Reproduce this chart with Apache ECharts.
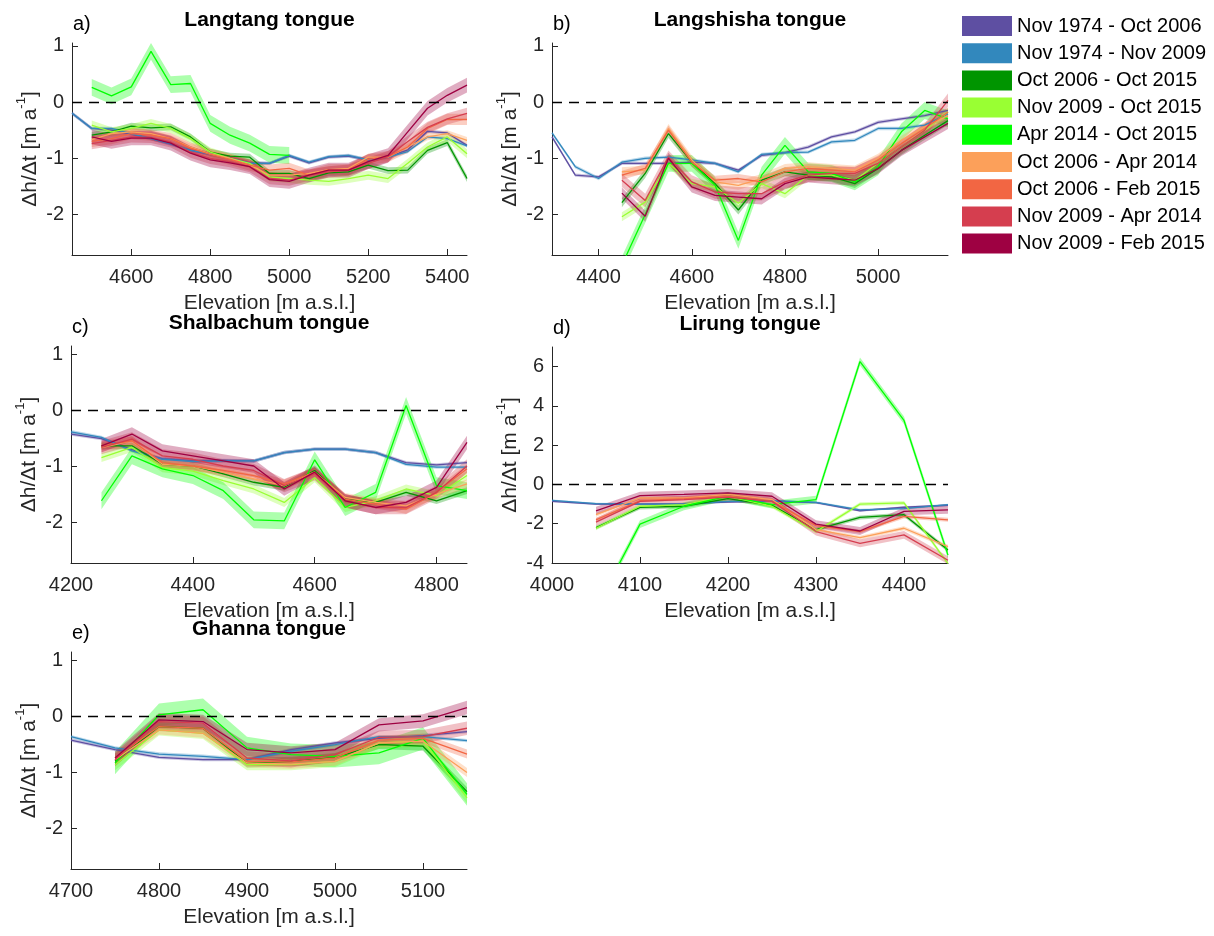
<!DOCTYPE html>
<html>
<head>
<meta charset="utf-8">
<script src="https://cdn.jsdelivr.net/npm/echarts@6/dist/echarts.min.js"></script>
<style>
  html, body { margin: 0; padding: 0; background: #fff; }
  #main { width: 1214px; height: 936px; }
</style>
</head>
<body>
<div id="main"></div>
<script>
// periods, same order in every panel
var periods = [
  "Nov 1974 - Oct 2006", "Nov 1974 - Nov 2009", "Oct 2006 - Oct 2015",
  "Nov 2009 - Oct 2015", "Apr 2014 - Oct 2015", "Oct 2006 - Apr 2014",
  "Oct 2006 - Feb 2015", "Nov 2009 - Apr 2014", "Nov 2009 - Feb 2015"
];
var colors = ["#5e4fa2", "#3288bd", "#009500", "#99ff33", "#00ff00",
              "#fca05a", "#f26643", "#d53e4f", "#9e0142"];

// a) Langtang
var elevA = [4450, 4500, 4550, 4600, 4650, 4700, 4750, 4800, 4850, 4900, 4950,
             5000, 5050, 5100, 5150, 5200, 5250, 5300, 5350, 5400, 5450];
var langtang = [
  [-0.2, -0.47, -0.5, -0.57, -0.65, -0.75, -0.86, -0.93, -1.0, -1.08, -1.09, -0.96, -1.08, -0.98, -0.96, -1.03, -0.98, -0.85, -0.52, -0.55, -0.77],
  [-0.2, -0.47, -0.47, -0.56, -0.65, -0.74, -0.86, -0.92, -1.0, -1.09, -1.09, -0.95, -1.07, -0.97, -0.95, -1.03, -0.98, -0.88, -0.62, -0.65, -0.78],
  [null, -0.59, -0.53, -0.43, -0.46, -0.44, -0.62, -0.89, -0.96, -0.98, -1.27, -1.27, -1.36, -1.26, -1.24, -1.12, -1.22, -1.21, -0.86, -0.72, -1.36],
  [null, -0.41, -0.53, -0.47, -0.38, -0.47, -0.65, -0.89, -1.0, -1.09, -1.33, -1.36, -1.39, -1.41, -1.36, -1.3, -1.36, -1.09, -0.8, -0.62, -0.92],
  [null, 0.26, 0.11, 0.27, 0.9, 0.31, 0.33, -0.38, -0.59, -0.73, -0.93, -0.95, null, null, null, null, null, null, null, null, null],
  [null, -0.67, -0.56, -0.53, -0.56, -0.65, -0.8, -0.92, -1.0, -1.12, -1.3, -1.3, -1.27, -1.2, -1.18, -0.98, -0.98, -0.8, -0.62, -0.56, -0.68],
  [null, -0.7, -0.65, -0.56, -0.59, -0.65, -0.82, -0.93, -1.02, -1.12, -1.21, -1.18, -1.3, -1.2, -1.2, -1.02, -0.97, -0.8, -0.47, -0.31, -0.31],
  [null, -0.74, -0.68, -0.62, -0.63, -0.71, -0.89, -1.0, -1.06, -1.15, -1.36, -1.39, -1.3, -1.24, -1.21, -1.09, -0.97, -0.7, -0.45, -0.3, -0.2],
  [null, -0.62, -0.7, -0.64, -0.64, -0.73, -0.91, -1.03, -1.08, -1.15, -1.38, -1.41, -1.3, -1.21, -1.21, -1.06, -0.95, -0.53, -0.11, 0.12, 0.3]
];
var errA = [0.03, 0.03, 0.06, 0.08, 0.15, 0.06, 0.1, 0.1, 0.13];

// b) Langshisha
var elevB = [4300, 4350, 4400, 4450, 4500, 4550, 4600, 4650, 4700, 4750, 4800,
             4850, 4900, 4950, 5000, 5050, 5100, 5150];
var langshisha = [
  [-0.62, -1.3, -1.33, -1.09, -1.09, -1.09, -1.07, -1.09, -1.21, -0.95, -0.9, -0.8, -0.62, -0.53, -0.36, -0.3, -0.24, -0.15],
  [-0.55, -1.15, -1.36, -1.07, -1.0, -0.98, -1.03, -1.09, -1.24, -0.93, -0.9, -0.89, -0.71, -0.68, -0.47, -0.47, -0.41, -0.21],
  [null, null, null, -1.79, -1.27, -0.56, -1.07, -1.45, -1.92, -1.39, -1.24, -1.3, -1.33, -1.45, -1.18, -0.86, -0.59, -0.33],
  [null, null, null, -2.04, -1.78, -1.09, -1.45, -1.51, -1.8, -1.45, -1.63, -1.3, -1.3, -1.39, -1.09, -0.8, -0.5, -0.18],
  [null, null, null, -2.9, -2.0, -1.09, -1.09, -1.48, -2.46, -1.3, -0.77, -1.24, -1.27, -1.42, -1.15, -0.53, -0.15, -0.3],
  [null, null, null, -1.24, -1.21, -0.47, -1.03, -1.42, -1.48, -1.36, -1.18, -1.15, -1.18, -1.21, -1.0, -0.68, -0.44, -0.24],
  [null, null, null, -1.3, -1.18, -0.5, -1.07, -1.39, -1.36, -1.42, -1.24, -1.18, -1.21, -1.24, -1.03, -0.74, -0.47, -0.18],
  [null, null, null, -1.39, -1.75, -0.98, -1.42, -1.6, -1.63, -1.63, -1.42, -1.3, -1.27, -1.27, -1.09, -0.8, -0.5, 0.03],
  [null, null, null, -1.62, -2.03, -1.0, -1.51, -1.66, -1.69, -1.72, -1.45, -1.33, -1.36, -1.39, -1.18, -0.86, -0.62, -0.38]
];
var errB = [0.03, 0.03, 0.08, 0.08, 0.15, 0.08, 0.08, 0.12, 0.1];

// c) Shalbachum
var elevC = [4200, 4250, 4300, 4350, 4400, 4450, 4500, 4550, 4600, 4650, 4700, 4750, 4800, 4850];
var shalbachum = [
  [-0.42, -0.5, -0.7, -0.86, -0.9, -0.89, -0.9, -0.75, -0.69, -0.69, -0.75, -0.93, -0.97, -0.93],
  [-0.38, -0.48, -0.72, -0.87, -0.91, -0.9, -0.9, -0.75, -0.69, -0.69, -0.75, -0.96, -1.01, -1.01],
  [null, -0.63, -0.63, -0.96, -0.99, -1.13, -1.28, -1.37, -1.07, -1.58, -1.64, -1.46, -1.61, -1.43],
  [null, -0.84, -0.66, -1.02, -1.08, -1.25, -1.4, -1.64, -1.2, -1.73, -1.61, -1.4, -1.52, -1.16],
  [null, -1.61, -0.81, -1.04, -1.16, -1.43, -1.95, -1.97, -0.88, -1.73, -1.46, 0.09, -1.34, -1.43],
  [null, -0.66, -0.54, -0.96, -0.99, -1.1, -1.22, -1.34, -1.1, -1.55, -1.64, -1.7, -1.49, -1.31],
  [null, -0.63, -0.54, -0.93, -0.99, -1.07, -1.16, -1.31, -1.1, -1.58, -1.67, -1.76, -1.46, -1.04],
  [null, -0.66, -0.51, -0.81, -0.87, -0.99, -1.07, -1.34, -1.13, -1.61, -1.73, -1.73, -1.46, -0.99],
  [null, -0.63, -0.42, -0.72, -0.81, -0.9, -0.99, -1.4, -1.1, -1.61, -1.73, -1.64, -1.37, -0.57]
];
var errC = [0.03, 0.03, 0.06, 0.08, 0.15, 0.08, 0.08, 0.12, 0.12];

// d) Lirung
var elevD = [4000, 4050, 4100, 4150, 4200, 4250, 4300, 4350, 4400, 4450];
var lirung = [
  [-0.86, -1.0, -1.0, -0.98, -0.9, -0.85, -0.93, -1.34, -1.16, -1.06],
  [-0.81, -0.98, -1.0, -1.0, -0.86, -0.82, -0.91, -1.29, -1.23, -1.03],
  [null, -2.2, -1.17, -1.11, -0.72, -1.06, -2.3, -1.68, -1.54, -3.34],
  [null, -2.23, -1.11, -1.03, -0.6, -1.11, -2.4, -1.0, -0.94, -4.03],
  [null, -6.3, -2.02, -1.11, -0.6, -1.03, -0.77, 6.26, 3.26, -3.6],
  [null, -1.54, -0.69, -0.69, -0.51, -0.77, -2.3, -2.71, -2.23, -3.17],
  [null, -1.8, -0.82, -0.72, -0.6, -0.86, -2.1, -2.4, -1.63, -1.8],
  [null, -1.92, -0.86, -0.77, -0.65, -0.86, -2.4, -3.0, -2.57, -3.86],
  [null, -1.34, -0.57, -0.51, -0.43, -0.6, -2.02, -2.37, -1.37, -1.29]
];
var errD = [0.05, 0.05, 0.1, 0.1, 0.2, 0.1, 0.1, 0.2, 0.2];

// e) Ghanna
var elevE = [4700, 4750, 4800, 4850, 4900, 4950, 5000, 5050, 5100, 5150];
var ghanna = [
  [-0.42, -0.59, -0.73, -0.77, -0.77, -0.59, -0.47, -0.39, -0.34, -0.27],
  [-0.36, -0.56, -0.67, -0.71, -0.77, -0.62, -0.5, -0.36, -0.36, -0.43],
  [null, -0.8, -0.18, -0.21, -0.83, -0.8, -0.73, -0.5, -0.53, -1.34],
  [null, -0.86, -0.24, -0.3, -0.86, -0.86, -0.8, -0.47, -0.44, -1.45],
  [null, -0.83, 0.03, 0.12, -0.56, -0.68, -0.71, -0.65, -0.39, -1.39],
  [null, -0.77, -0.24, -0.3, -0.83, -0.85, -0.8, -0.47, -0.44, -1.0],
  [null, -0.74, -0.18, -0.21, -0.8, -0.81, -0.74, -0.42, -0.39, -0.67],
  [null, -0.77, -0.09, -0.12, -0.74, -0.79, -0.68, -0.37, -0.36, -0.21],
  [null, -0.74, -0.06, -0.09, -0.59, -0.65, -0.59, -0.15, -0.08, 0.16]
];
var errE = [0.03, 0.03, 0.08, 0.1, 0.2, 0.08, 0.08, 0.12, 0.12];

var xTicksA = [4600, 4800, 5000, 5200, 5400];
var xTicksB = [4400, 4600, 4800, 5000];
var xTicksC = [4200, 4400, 4600, 4800];
var xTicksD = [4000, 4100, 4200, 4300, 4400];
var xTicksE = [4700, 4800, 4900, 5000, 5100];
var yTicks = [-2, -1, 0, 1];
var yTicksD = [-4, -2, 0, 2, 4, 6];

var panels = [
  { title: "Langtang tongue", tag: "a)", elev: elevA, vals: langtang, err: errA,
    xMin: 4450, xMax: 5450, xTicks: xTicksA, yMin: -2.72, yMax: 1.05, yTicks: yTicks,
    grid: { left: 72, top: 43, width: 395, height: 212 } },
  { title: "Langshisha tongue", tag: "b)", elev: elevB, vals: langshisha, err: errB,
    xMin: 4300, xMax: 5150, xTicks: xTicksB, yMin: -2.72, yMax: 1.05, yTicks: yTicks,
    grid: { left: 552, top: 43, width: 396, height: 212 } },
  { title: "Shalbachum tongue", tag: "c)", elev: elevC, vals: shalbachum, err: errC,
    xMin: 4200, xMax: 4850, xTicks: xTicksC, yMin: -2.72, yMax: 1.15, yTicks: yTicks,
    grid: { left: 71, top: 346, width: 396, height: 217 } },
  { title: "Lirung tongue", tag: "d)", elev: elevD, vals: lirung, err: errD,
    xMin: 4000, xMax: 4450, xTicks: xTicksD, yMin: -4, yMax: 7, yTicks: yTicksD,
    grid: { left: 552, top: 347, width: 396, height: 216 } },
  { title: "Ghanna tongue", tag: "e)", elev: elevE, vals: ghanna, err: errE,
    xMin: 4700, xMax: 5150, xTicks: xTicksE, yMin: -2.72, yMax: 1.15, yTicks: yTicks,
    grid: { left: 71, top: 652, width: 396, height: 217 } }
];

var FONT = "Liberation Sans, Arial, Helvetica, sans-serif";
var INK = "#262626";

function rgba(hex, a) {
  var n = parseInt(hex.slice(1), 16);
  return "rgba(" + (n >> 16) + "," + ((n >> 8) & 255) + "," + (n & 255) + "," + a + ")";
}
function plain(v) { return String(v); }

var grids = [], xAxes = [], yAxes = [], series = [], graphics = [];

panels.forEach(function (p, g) {
  grids.push(p.grid);
  xAxes.push({
    type: "value", gridIndex: g, min: p.xMin, max: p.xMax,
    name: "Elevation [m a.s.l.]", nameLocation: "middle", nameGap: 38,
    nameTextStyle: { fontSize: 21, color: INK, fontFamily: FONT },
    axisLine: { show: true, onZero: false, lineStyle: { color: INK, width: 1 } },
    axisTick: { show: true, inside: true, length: 6, customValues: p.xTicks, lineStyle: { color: INK } },
    axisLabel: { customValues: p.xTicks, formatter: plain, fontSize: 20, color: INK, fontFamily: FONT, margin: 12 },
    splitLine: { show: false }
  });
  yAxes.push({
    type: "value", gridIndex: g, min: p.yMin, max: p.yMax,
    name: "{n|Δh/Δt [m a}{s|-1}{n|]}", nameLocation: "middle", nameGap: 31, nameRotate: 90,
    nameTextStyle: {
      color: INK, fontFamily: FONT,
      rich: {
        n: { fontSize: 21, color: INK, fontFamily: FONT, lineHeight: 26, verticalAlign: "bottom" },
        s: { fontSize: 13, color: INK, fontFamily: FONT, lineHeight: 26, verticalAlign: "top" }
      }
    },
    axisLine: { show: true, onZero: false, lineStyle: { color: INK, width: 1 } },
    axisTick: { show: true, inside: true, length: 6, customValues: p.yTicks, lineStyle: { color: INK } },
    axisLabel: { customValues: p.yTicks, formatter: plain, fontSize: 20, color: INK, fontFamily: FONT, margin: 8 },
    splitLine: { show: false }
  });

  // uncertainty bands
  p.vals.forEach(function (vals, k) {
    var pts = [];
    p.elev.forEach(function (x, i) {
      if (vals[i] != null) pts.push([x, vals[i] - p.err[k], vals[i] + p.err[k]]);
    });
    var fill = rgba(colors[k], 0.32);
    series.push({
      type: "custom", name: periods[k] + " band", xAxisIndex: g, yAxisIndex: g,
      silent: true, z: 1, data: pts, encode: { x: 0, y: [1, 2] },
      renderItem: function (params, api) {
        if (params.dataIndex !== 0) return;
        var up = pts.map(function (d) { return api.coord([d[0], d[2]]); });
        var lo = pts.map(function (d) { return api.coord([d[0], d[1]]); }).reverse();
        var cs = params.coordSys;
        return {
          type: "polygon",
          shape: { points: up.concat(lo) },
          style: { fill: fill },
          clipPath: { type: "rect", shape: { x: cs.x, y: cs.y, width: cs.width, height: cs.height } }
        };
      }
    });
  });

  // lines
  p.vals.forEach(function (vals, k) {
    var data = [];
    p.elev.forEach(function (x, i) { if (vals[i] != null) data.push([x, vals[i]]); });
    var s = {
      type: "line", name: periods[k], xAxisIndex: g, yAxisIndex: g,
      data: data, symbol: "none", z: 2 + k * 0.01, clip: true,
      lineStyle: { color: colors[k], width: 1.3 },
      itemStyle: { color: colors[k] }
    };
    if (k === 0) {
      s.markLine = {
        silent: true, symbol: "none", label: { show: false },
        lineStyle: { color: "#000", type: [10, 7], width: 1.4 },
        data: [{ yAxis: 0 }]
      };
    }
    series.push(s);
  });

  var cx = p.grid.left + p.grid.width / 2;
  graphics.push({
    type: "text", x: cx, y: p.grid.top - 23,
    style: { text: p.title, font: "bold 21px " + FONT, fill: "#000", textAlign: "center", textVerticalAlign: "middle" }
  });
  graphics.push({
    type: "text", x: p.grid.left + 1, y: p.grid.top - 19,
    style: { text: p.tag, font: "20px " + FONT, fill: "#000", textAlign: "left", textVerticalAlign: "middle" }
  });
});

var chart = echarts.init(document.getElementById("main"));
chart.setOption({
  animation: false,
  backgroundColor: "#fff",
  textStyle: { fontFamily: FONT },
  grid: grids,
  xAxis: xAxes,
  yAxis: yAxes,
  legend: {
    data: periods, orient: "vertical", left: 962, top: 16, padding: 0,
    icon: "rect", itemWidth: 50, itemHeight: 20, itemGap: 7.2,
    textStyle: { fontSize: 20, color: "#000", fontFamily: FONT }
  },
  graphic: graphics,
  series: series
});
</script>
</body>
</html>
